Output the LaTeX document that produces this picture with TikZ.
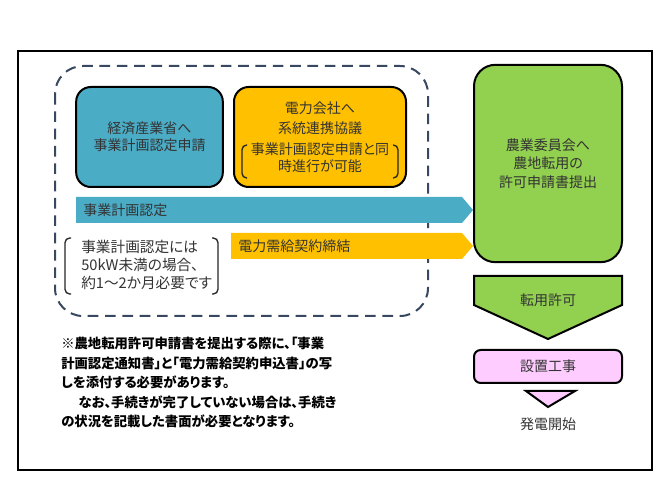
\documentclass[tikz,border=0pt]{standalone}
\usepackage{fontspec}
\setmainfont{Noto Sans CJK JP}[RawFeature=+palt]
\definecolor{aquablue}{RGB}{75,172,198}
\definecolor{ambergold}{RGB}{255,192,0}
\definecolor{leafgreen}{RGB}{146,208,80}
\definecolor{lilacpink}{RGB}{255,204,255}
\definecolor{dashnavy}{RGB}{56,72,96}
\newcommand{\boxfont}{\fontsize{10.5}{12.75}\selectfont}
\newcommand{\notefont}{\fontsize{10}{14.6}\selectfont\bfseries}
\usepackage{tikz}
\usetikzlibrary{positioning}

\begin{document}
\begin{tikzpicture}[x=0.75pt, y=-0.75pt,
  flowbox/.style={draw, line width=1.5pt, align=center, text=black!80, font=\boxfont, inner sep=0pt},
  arrowtext/.style={text=black!80, font=\boxfont, inner sep=0pt},
  bracket/.style={draw=black!85, line width=1pt, rounded corners=3.5pt}
]
  \useasboundingbox (0,0) rectangle (665,499);
  \fill[white] (0,0) rectangle (665,499);
  \draw[line width=1.5pt] (18,51) rectangle (652,470);
  \draw[dashnavy, line width=1.5pt, dash pattern=on 8pt off 5pt, rounded corners=21pt] (55,66) rectangle (428,316);

  \fill[aquablue] (76,197) -- (462,197) -- (473,210) -- (462,223) -- (76,223) -- cycle;
  \node[arrowtext, anchor=west] (nintei) at (83,210) {事業計画認定};
  \fill[ambergold] (231,233) -- (462,233) -- (473,246) -- (462,259) -- (231,259) -- cycle;
  \node[arrowtext, anchor=west] (keiyaku) at (238,246) {電力需給契約締結};

  \node[flowbox, fill=aquablue, rounded corners=11pt, minimum width=110pt, minimum height=75pt] (meti) at (149.5,137) {経済産業省へ\\事業計画認定申請};
  \node[flowbox, fill=ambergold, rounded corners=11pt, minimum width=129pt, minimum height=75pt] (grid) at (320,137) {電力会社へ\\[2.5pt]系統連携協議\\[3pt]事業計画認定申請と同\\時進行が可能};
  \draw[bracket] (247,145) -- (242,145) -- (242,178) -- (247,178);
  \draw[bracket] (393,145) -- (398,145) -- (398,178) -- (393,178);

  \draw[bracket] (71,238) -- (65,238) -- (65,294) -- (71,294);
  \draw[bracket] (212,238) -- (218,238) -- (218,294) -- (212,294);
  \node[anchor=west, align=left, inner sep=0pt, text=black!80, font={\fontsize{11}{13.5}\selectfont}] (biko) at (81,265) {事業計画認定には\\50kW未満の場合、\\約1～2か月必要です};

  \node[flowbox, fill=leafgreen, rounded corners=16pt, minimum width=111pt, minimum height=148pt] (shinsei) at (548,163.5) {農業委員会へ\\[1pt]農地転用の\\[1pt]許可申請書提出};
  \draw[line width=1.5pt, fill=leafgreen] (474,276) -- (622,276) -- (622,305) -- (548,339) -- (474,305) -- cycle;
  \node[arrowtext] (kyoka) at (548,300) {転用許可};
  \node[flowbox, fill=lilacpink, rounded corners=5pt, minimum width=111pt, minimum height=24.75pt] (koji) at (548,366.5) {設置工事};
  \draw[line width=1.5pt, fill=lilacpink] (526,391) -- (575,391) -- (548,407) -- cycle;
  \node[arrowtext] (kaishi) at (548,424) {発電開始};

  \node[anchor=north west, align=left, inner sep=0pt, font=\notefont] (chuki) at (61,337) {※農地転用許可申請書を提出する際に、「事業\\計画認定通知書」と「電力需給契約申込書」の写\\しを添付する必要があります。\\\hspace*{13pt}なお、手続きが完了していない場合は、手続き\\の状況を記載した書面が必要となります。};
\end{tikzpicture}
\end{document}
